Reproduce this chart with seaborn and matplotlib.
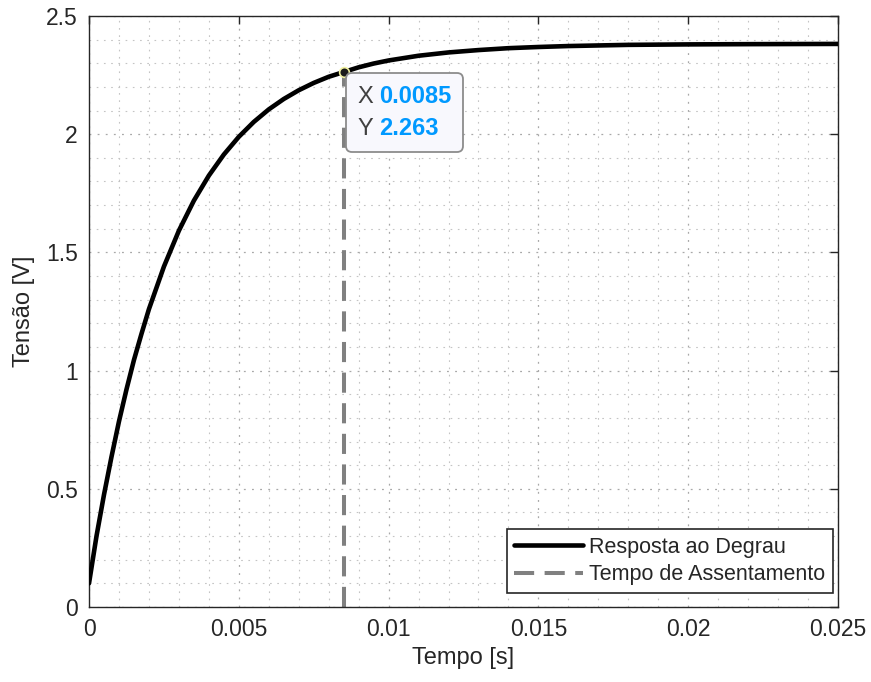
import matplotlib
matplotlib.use("Agg")
import matplotlib.pyplot as plt
from matplotlib.offsetbox import TextArea, HPacker, VPacker, AnnotationBbox
import seaborn as sns
import pandas as pd

tempo = [0, 0.00025, 0.0005, 0.00075, 0.001, 0.00125, 0.0015, 0.00175, 0.002,
         0.0025, 0.003, 0.0035, 0.004, 0.0045, 0.005, 0.0055, 0.006, 0.0065,
         0.007, 0.0075, 0.008, 0.0085, 0.009, 0.0095, 0.010, 0.011, 0.012,
         0.013, 0.014, 0.015, 0.016, 0.018, 0.020, 0.022, 0.025]
tensao = [0.10, 0.30, 0.475, 0.635, 0.785, 0.92, 1.045, 1.155, 1.26,
          1.44, 1.592, 1.719, 1.825, 1.914, 1.989, 2.052, 2.105, 2.149,
          2.186, 2.217, 2.243, 2.263, 2.283, 2.299, 2.312, 2.332, 2.346,
          2.356, 2.364, 2.369, 2.373, 2.378, 2.380, 2.381, 2.382]

t_assent = 0.0085
v_assent = 2.263

xticks = [0, 0.005, 0.01, 0.015, 0.02, 0.025]
xtick_labels = ['0', '0.005', '0.01', '0.015', '0.02', '0.025']
yticks = [0, 0.5, 1, 1.5, 2, 2.5]
ytick_labels = ['0', '0.5', '1', '1.5', '2', '2.5']

sns.set_style("white")
plt.rcParams['font.family'] = ['Liberation Sans', 'DejaVu Sans']

df = pd.DataFrame({'t': tempo, 'v': tensao})
df_ts = pd.DataFrame({'t': [t_assent, t_assent], 'v': [0, v_assent]})

fig = plt.figure(figsize=(8.71, 6.82), dpi=100)
ax = fig.add_axes([0.1022, 0.110, 0.8599, 0.8665])

sns.lineplot(data=df, x='t', y='v', color='black', linewidth=3.3, ax=ax,
             label='Resposta ao Degrau', zorder=3, estimator=None, sort=False)
sns.lineplot(data=df_ts, x='t', y='v', color='#808080', linewidth=2.9, ax=ax,
             label='Tempo de Assentamento', zorder=2, estimator=None, sort=False)
ax.lines[1].set_dashes([5, 2.6])

# marcador do data tip
ax.plot(t_assent, v_assent, 'o', color='#1a1a1a', markersize=7,
        markeredgecolor='#f0f0a0', markeredgewidth=1.2, zorder=5)

cinza = dict(color='#404040', fontsize=17)
azul = dict(color='#0099ff', fontsize=17, fontweight='bold')
linha_x = HPacker(children=[TextArea('X', textprops=cinza),
                            TextArea('0.0085', textprops=azul)], pad=0, sep=4)
linha_y = HPacker(children=[TextArea('Y', textprops=cinza),
                            TextArea('2.263', textprops=azul)], pad=0, sep=4)
caixa = VPacker(children=[linha_x, linha_y], pad=0, sep=7, align='left')
ab = AnnotationBbox(caixa, (t_assent, v_assent), xybox=(10, -9),
                    boxcoords='offset points', box_alignment=(0, 1),
                    frameon=True, zorder=6, fontsize=17,
                    bboxprops=dict(boxstyle='round,pad=0.5,rounding_size=0.25',
                                   fc='#f8f8fd', ec='#8c8c8c', lw=1.3))
ax.add_artist(ab)

ax.set_xlim(0, 0.025)
ax.set_ylim(0, 2.5)
ax.set_xticks(xticks)
ax.set_xticklabels(xtick_labels)
ax.set_yticks(yticks)
ax.set_yticklabels(ytick_labels)
ax.set_xticks([i * 0.001 for i in range(26)], minor=True)
ax.set_yticks([i * 0.1 for i in range(26)], minor=True)

ax.grid(which='major', linestyle=(0, (1.5, 5)), color='#a8a8a8', linewidth=0.9)
ax.grid(which='minor', linestyle=(0, (1.5, 5)), color='#c4c4c4', linewidth=0.8)
ax.set_axisbelow(True)

ax.tick_params(axis='both', which='major', direction='in', length=6, width=1,
               top=True, right=True, labelsize=16.5, colors='#262626', pad=8)
ax.tick_params(axis='both', which='minor', length=0)
for s in ax.spines.values():
    s.set_color('#262626')
    s.set_linewidth(1)

ax.set_xlabel('Tempo [s]', fontsize=17, color='#262626', labelpad=4)
ax.set_ylabel('Tensão [V]', fontsize=17, color='#262626', labelpad=8)

leg = ax.legend(loc='lower right', bbox_to_anchor=(0.9935, 0.024), borderaxespad=0,
                fontsize=15.5, frameon=True, fancybox=False,
                edgecolor='#262626', framealpha=1, handlelength=3.2,
                handletextpad=0.3, borderpad=0.35, labelspacing=0.3)
leg.get_frame().set_linewidth(1.2)

fig.savefig('out.png', dpi=100)
